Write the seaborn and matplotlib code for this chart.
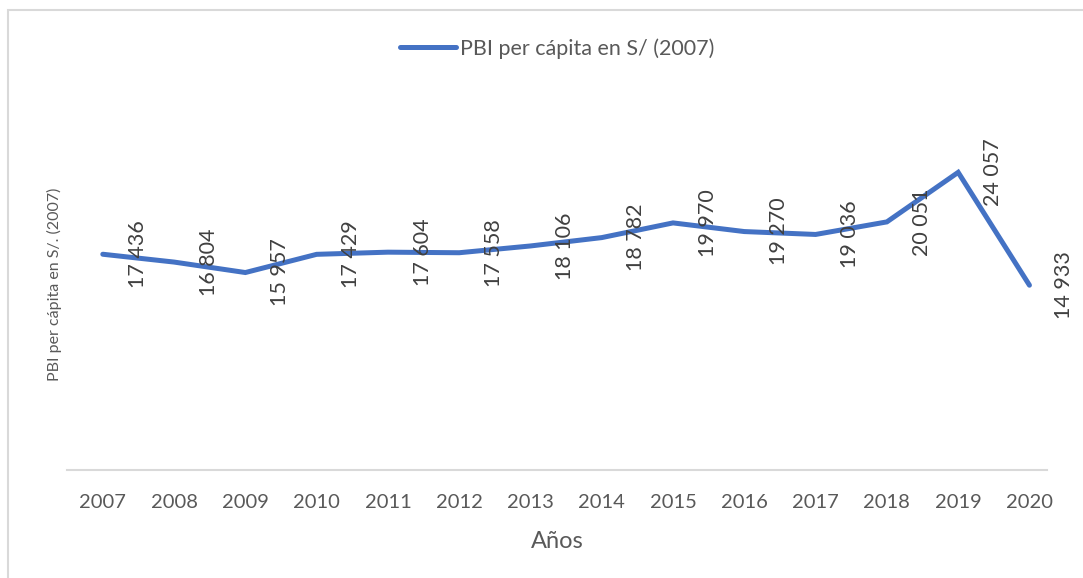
import matplotlib.pyplot as plt
import pandas as pd
import seaborn as sns
from matplotlib.patches import Rectangle

years = ["2007", "2008", "2009", "2010", "2011", "2012", "2013",
         "2014", "2015", "2016", "2017", "2018", "2019", "2020"]
pbi = [17436, 16804, 15957, 17429, 17604, 17558, 18106,
       18782, 19970, 19270, 19036, 20051, 24057, 14933]
series_name = "PBI per cápita en S/ (2007)"

LINE_COLOR = "#4472C4"
TEXT_COLOR = "#595959"

sns.set_theme(style="white")
plt.rcParams["font.family"] = ["Lato", "DejaVu Sans"]

df = pd.DataFrame({"Año": years, "PBI": pbi})
df["x"] = range(len(df))

fig = plt.figure(figsize=(10.83, 5.78), dpi=100)
ax = fig.add_axes([0.062, 0.187, 0.905, 0.642])

sns.lineplot(data=df, x="x", y="PBI", ax=ax, color=LINE_COLOR, linewidth=3.6,
             label=series_name, solid_capstyle="round", solid_joinstyle="miter")

# etiquetas de datos giradas, a la derecha de cada punto
for xi, v in zip(df["x"], df["PBI"]):
    ax.annotate(f"{v:,}".replace(",", " "), (xi, v), xytext=(25, 0),
                textcoords="offset points", rotation=90, ha="center", va="center",
                fontsize=15.5, color="#404040")

ax.set_xlim(-0.5, 13.25)
ax.set_ylim(0, 30000)
ax.set_xticks(df["x"])
ax.set_xticklabels(years, fontsize=14.5, color=TEXT_COLOR)
ax.set_yticks([])
ax.tick_params(axis="x", length=0, pad=17)
ax.set_xlabel("Años", fontsize=17, color=TEXT_COLOR, labelpad=15)
ax.set_ylabel("PBI per cápita en S/. (2007)", fontsize=11.5, color=TEXT_COLOR, labelpad=4)

for side in ["top", "right", "left"]:
    ax.spines[side].set_visible(False)
ax.spines["bottom"].set_color("#D9D9D9")
ax.spines["bottom"].set_linewidth(1.5)

leg = ax.legend(loc="upper center", bbox_to_anchor=(0.5, 1.215), frameon=False,
                fontsize=15.5, handlelength=2.6, handletextpad=0.2)
for t in leg.get_texts():
    t.set_color(TEXT_COLOR)

fig.patches.append(Rectangle((8 / 1083, -0.05), 1.1, 1 - 10 / 578 + 0.05,
                             transform=fig.transFigure, fill=False,
                             edgecolor="#D9D9D9", linewidth=1.5))

fig.savefig("out.png", dpi=100)
